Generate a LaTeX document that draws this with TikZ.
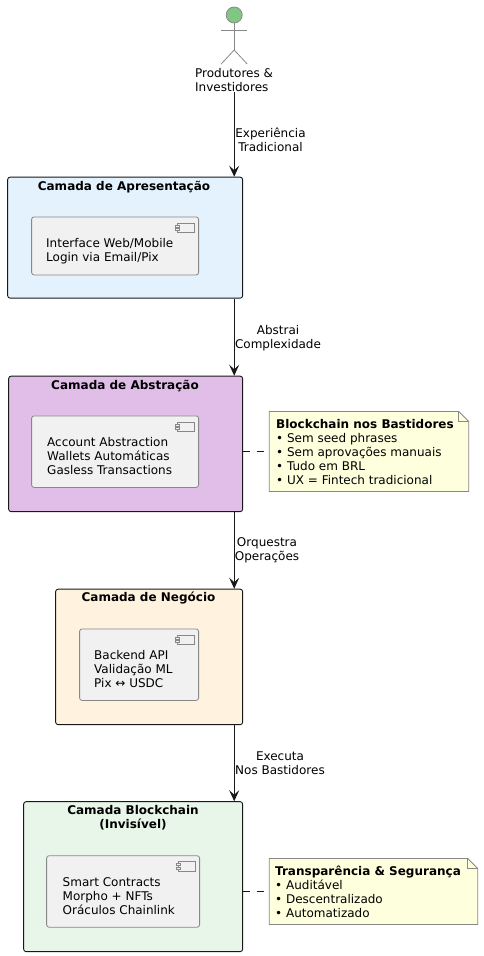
\documentclass[tikz,border=0pt]{standalone}
\usepackage{fontspec}
\setmainfont{DejaVu Sans}
\usepackage{xcolor}
\usepackage{tikz}
\usetikzlibrary{arrows.meta}

\definecolor{apresfill}{HTML}{E3F2FD}
\definecolor{abstrfill}{HTML}{E1BEE7}
\definecolor{negocfill}{HTML}{FFF3E0}
\definecolor{blockfill}{HTML}{E8F5E9}
\definecolor{compfill}{HTML}{F1F1F1}
\definecolor{notefill}{HTML}{FEFFDD}
\definecolor{actorfill}{HTML}{81C784}
\definecolor{linegray}{HTML}{888888}
\definecolor{linedark}{HTML}{181818}

\tikzset{
    basetext/.style={font=\fontsize{12}{14}\selectfont, inner sep=0pt, text=black},
    layerbox/.style={draw=linedark, rounded corners=2.5pt, line width=0.9pt, anchor=north west, inner sep=0pt},
    compbox/.style={draw=linegray, fill=compfill, rounded corners=2.5pt, line width=0.8pt, anchor=north west, inner sep=0pt},
    layertitle/.style={basetext, align=center, font=\fontsize{12}{14}\selectfont\bfseries},
    bodytext/.style={basetext, align=left, anchor=west},
    linktext/.style={basetext, align=center},
    link/.style={draw=linedark, line width=0.9pt, -{Stealth[length=11pt,width=10pt,inset=4.5pt]}},
    notelink/.style={draw=linedark, line width=0.8pt, dash pattern=on 7pt off 7pt},
    actorline/.style={draw=linegray, line width=0.8pt},
    noteframe/.style={inner sep=0pt, anchor=north west},
}

% note outline with folded corner, taken from an empty named node
\newcommand{\notepoly}[1]{%
    \draw[linegray, line width=0.8pt, fill=notefill] (#1.north west) -- ([xshift=-10pt]#1.north east) -- ([yshift=-10pt]#1.north east) -- (#1.south east) -- (#1.south west) -- cycle;
    \draw[linegray, line width=0.8pt] ([xshift=-10pt]#1.north east) -- ([xshift=-10pt,yshift=-10pt]#1.north east) -- ([yshift=-10pt]#1.north east);
}
% component icon, #1 is the component node
\newcommand{\compicon}[1]{%
    \draw[linegray, line width=0.8pt, fill=compfill] ([xshift=-21.5pt,yshift=-6.5pt]#1.north east) rectangle ([xshift=-4.5pt,yshift=-16pt]#1.north east);
    \draw[linegray, line width=0.8pt, fill=compfill] ([xshift=-23.5pt,yshift=-8.5pt]#1.north east) rectangle ([xshift=-19.5pt,yshift=-10.5pt]#1.north east);
    \draw[linegray, line width=0.8pt, fill=compfill] ([xshift=-23.5pt,yshift=-12pt]#1.north east) rectangle ([xshift=-19.5pt,yshift=-14pt]#1.north east);
}

\begin{document}
\begin{tikzpicture}[x=1pt,y=-1pt]
                \useasboundingbox (0,0) rectangle (483,956);

                % Actor
                \node[circle, draw=linegray, fill=actorfill, line width=0.8pt, inner sep=0pt, minimum size=16pt] (cabeca) at (234.2,15) {};
                \coordinate (pescoco) at (234.2,50);
                \coordinate (bracoesq) at (221.2,30);
                \coordinate (bracodir) at (247.2,30);
                \coordinate (peesq) at (221.2,64);
                \coordinate (peedir) at (247.2,64);
                \draw[actorline] (cabeca) -- (pescoco);
                \draw[actorline] (bracoesq) -- (bracodir);
                \draw[actorline] (peesq) -- (pescoco) -- (peedir);
                \node[bodytext] (produtores) at (195,80.5) {Produtores \&\\Investidores};

                % Presentation layer
                \node[layerbox, fill=apresfill, minimum width=235pt, minimum height=121pt] (apres) at (7.2,176.7) {};
                \node[layertitle] (apreslabel) at (124,187) {Camada de Apresentação};
                \node[compbox, minimum width=167pt, minimum height=58pt] (interface) at (31.2,216.5) {};
                \compicon{interface}
                \node[bodytext] (interfacetext) at (46,251) {Interface Web/Mobile\\Login via Email/Pix};

                % Abstraction layer
                \node[layerbox, fill=abstrfill, minimum width=234pt, minimum height=135.5pt] (abstr) at (8.2,375.7) {};
                \node[layertitle] (abstrlabel) at (125,386) {Camada de Abstração};
                \node[compbox, minimum width=167pt, minimum height=71.5pt] (account) at (31.2,415.5) {};
                \compicon{account}
                \node[bodytext] (accounttext) at (47,456.5) {Account Abstraction\\Wallets Automáticas\\Gasless Transactions};

                % Business layer
                \node[layerbox, fill=negocfill, minimum width=187pt, minimum height=135.5pt] (negoc) at (55.2,588.7) {};
                \node[layertitle] (negoclabel) at (148.5,598) {Camada de Negócio};
                \node[compbox, minimum width=119pt, minimum height=71.5pt] (backend) at (79.2,628.5) {};
                \compicon{backend}
                \node[bodytext] (backendtext) at (94,669.5) {Backend API\\Validação ML\\Pix ↔ USDC};

                % Blockchain layer
                \node[layerbox, fill=blockfill, minimum width=219pt, minimum height=150pt] (block) at (23.2,801.2) {};
                \node[layertitle] (blocklabel) at (133,818) {Camada Blockchain\\(Invisível)};
                \node[compbox, minimum width=153pt, minimum height=71.5pt] (contracts) at (46.2,855.3) {};
                \compicon{contracts}
                \node[bodytext] (contractstext) at (62.5,896) {Smart Contracts\\Morpho + NFTs\\Oráculos Chainlink};

                % Notes
                \node[noteframe, minimum width=199pt, minimum height=79.5pt] (notabast) at (269.3,411.5) {};
                \notepoly{notabast}
                \node[bodytext] (notabasttext) at (276,452) {\textbf{Blockchain nos Bastidores}\\• Sem seed phrases\\• Sem aprovações manuais\\• Tudo em BRL\\• UX = Fintech tradicional};
                \node[noteframe, minimum width=208pt, minimum height=65.5pt] (notatransp) at (269.3,858.5) {};
                \notepoly{notatransp}
                \node[bodytext] (notatransptext) at (275,891.5) {\textbf{Transparência \& Segurança}\\• Auditável\\• Descentralizado\\• Automatizado};

                % Arrows between layers
                \draw[link] (produtores.south -| cabeca) -- (apres.north -| cabeca);
                \draw[link] (apres.south -| cabeca) -- (abstr.north -| cabeca);
                \draw[link] (abstr.south -| cabeca) -- (negoc.north -| cabeca);
                \draw[link] (negoc.south -| cabeca) -- (block.north -| cabeca);
                \node[linktext] (experiencia) at (270.5,139.5) {Experiência\\Tradicional};
                \node[linktext] (abstrai) at (278,338.5) {Abstrai\\Complexidade};
                \node[linktext] (orquestra) at (267,550) {Orquestra\\Operações};
                \node[linktext] (executa) at (280,763.5) {Executa\\Nos Bastidores};

                % Dashed note links
                \draw[notelink] (abstr.east |- notabast.west) -- (notabast.west);
                \draw[notelink] (block.east |- notatransp.west) -- (notatransp.west);
            \end{tikzpicture}
\end{document}
